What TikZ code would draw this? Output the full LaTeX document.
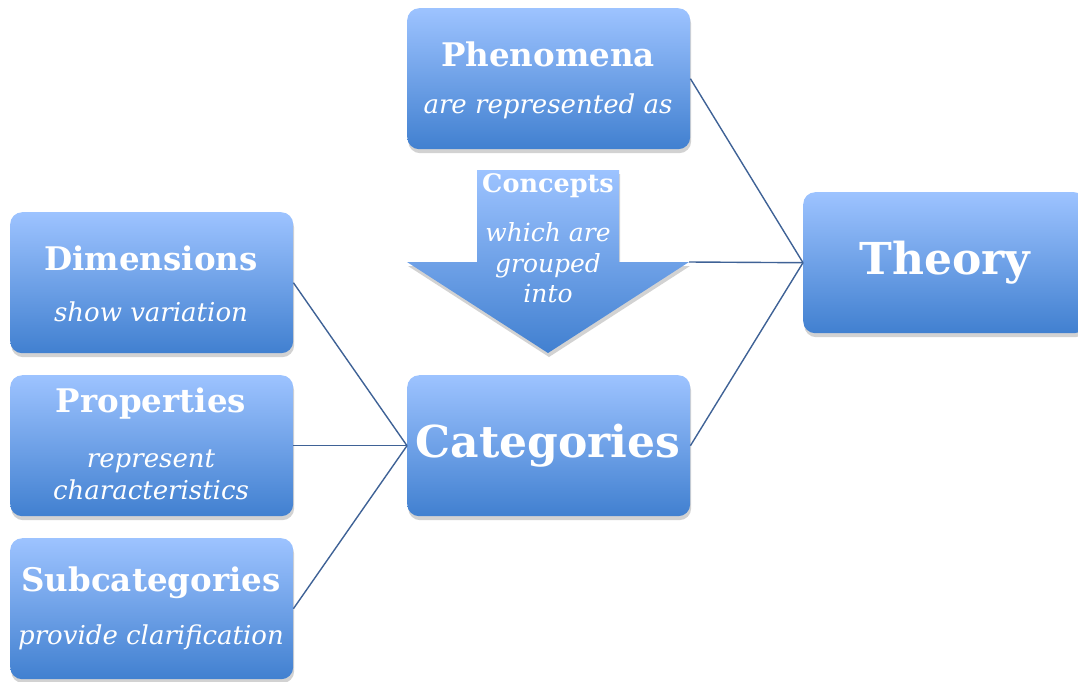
\documentclass[tikz,border=0pt]{standalone}
\usepackage{fontspec}
\setmainfont{DejaVu Serif}
\usetikzlibrary{shadows}
\definecolor{topc}{HTML}{9DC3FF}
\definecolor{botc}{HTML}{4180D0}
\definecolor{linec}{HTML}{3F6296}
\tikzset{
 box/.style={rectangle, rounded corners=12pt, minimum width=283pt, minimum height=141pt,
   top color=topc, bottom color=botc, draw=none, inner sep=0pt, anchor=north west,
   drop shadow={shadow xshift=1pt, shadow yshift=-4pt, opacity=0.25, fill=black!70}},
 conn/.style={draw=linec, line width=1.4pt},
 hd/.style={text=white, inner sep=0pt, font=\bfseries\fontsize{32.5}{38}\selectfont},
 hdbig/.style={text=white, inner sep=0pt, font=\bfseries\fontsize{44}{50}\selectfont},
 hdsmall/.style={text=white, inner sep=0pt, font=\bfseries\fontsize{25.5}{30}\selectfont},
 it/.style={text=white, inner sep=0pt, align=center, font=\itshape\fontsize{26}{32}\selectfont},
}
\begin{document}
\begin{tikzpicture}[x=1pt,y=-1pt]
\useasboundingbox (0,0) rectangle (1078,681);
% boxes
\node[box] (phen) at (407,8) {};
\node[box] (theo) at (803,192) {};
\node[box] (dim) at (10,212) {};
\node[box] (prop) at (10,375) {};
\node[box] (sub) at (10,538) {};
\node[box] (cat) at (407,375) {};
% arrow
\path[top color=topc, bottom color=botc, draw=none,
   drop shadow={shadow xshift=1pt, shadow yshift=-4pt, opacity=0.25, fill=black!70}]
  (477,170) -- (619,170) -- (619,262) -- (689,262) -- (548,353) -- (407,262) -- (477,262) -- cycle;
\coordinate (aw) at (689,262);
% texts
\node[hd] (tphen) at (548,54) {Phenomena};
\node[it] (iphen) at (548,106) {are represented as};
\node[hdbig] (ttheo) at (945,263) {Theory};
\node[hd] (tdim) at (151,258) {Dimensions};
\node[it] (idim) at (151,312) {show variation};
\node[hd] (tprop) at (151,404) {Properties};
\node[it] (iprop) at (151,475) {represent\\characteristics};
\node[hd] (tsub) at (151,583) {Subcategories};
\node[it] (isub) at (151,637) {provide clarification};
\node[hdbig] (tcat) at (548,446) {Categories};
\node[hdsmall] (tcon) at (548,186) {Concepts};
\node[it, font=\itshape\fontsize{25}{30.5}\selectfont] (icon) at (548,263) {which are\\grouped\\into};
% connectors
\draw[conn] (phen.east) -- (theo.west);
\draw[conn] (aw) -- (theo.west);
\draw[conn] (cat.east) -- (theo.west);
\draw[conn] (dim.east) -- (cat.west);
\draw[conn] (prop.east) -- (cat.west);
\draw[conn] (sub.east) -- (cat.west);
\end{tikzpicture}
\end{document}
